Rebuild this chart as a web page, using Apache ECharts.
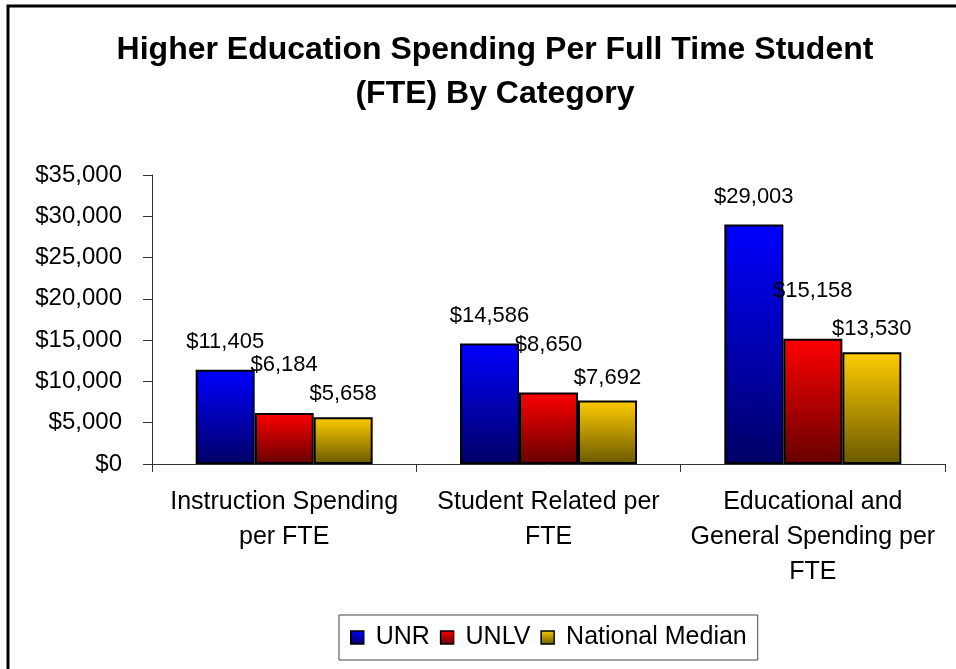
<!DOCTYPE html>
<html>
<head>
<meta charset="utf-8">
<style>
  html, body { margin: 0; padding: 0; background: #fff; }
  #main { width: 956px; height: 669px; }
</style>
<script src="https://cdn.jsdelivr.net/npm/echarts@6/dist/echarts.min.js"></script>
</head>
<body>
<div id="main"></div>
<script>
// data
var categories = ['Instruction Spending\nper FTE', 'Student Related per\nFTE', 'Educational and\nGeneral Spending per\nFTE'];
var unr = [11405, 14586, 29003];
var unlv = [6184, 8650, 15158];
var nationalMedian = [5658, 7692, 13530];

var myChart = echarts.init(document.getElementById('main'));

function grad(top, bottom) {
    return new echarts.graphic.LinearGradient(0, 0, 0, 1, [
        { offset: 0, color: top },
        { offset: 1, color: bottom }
    ]);
}

function money(v) {
    return '$' + echarts.format.addCommas(v);
}

var font = '"Liberation Sans", Arial, sans-serif';

function barSeries(name, data, top, bottom, dist) {
    return {
        name: name,
        type: 'bar',
        data: data,
        barWidth: 59,
        barGap: '0%',
        itemStyle: { color: grad(top, bottom), borderColor: '#000', borderWidth: 2 },
        label: {
            show: true,
            position: 'top',
            distance: dist,
            color: '#000',
            fontSize: 22,
            fontFamily: font,
            formatter: function (p) { return money(p.value); }
        }
    };
}

var option = {
    backgroundColor: '#fff',
    animation: false,
    title: {
        text: 'Higher Education Spending Per Full Time Student\n(FTE) By Category',
        left: 490,
        textAlign: 'center',
        top: 23,
        textStyle: { fontSize: 32, fontWeight: 'bold', color: '#000', lineHeight: 44, fontFamily: font }
    },
    graphic: [{
        type: 'rect',
        shape: { x: 8, y: 6, width: 1000, height: 1000 },
        style: { fill: 'none', stroke: '#000', lineWidth: 3 },
        silent: true
    }],
    legend: {
        data: ['UNR', 'UNLV', 'National Median'],
        top: 615,
        left: 339,
        icon: 'rect',
        itemWidth: 13,
        itemHeight: 13,
        itemGap: 10,
        padding: [10, 11],
        borderColor: '#444',
        borderWidth: 1,
        itemStyle: { borderWidth: 1.5, borderColor: '#000' },
        formatter: function (name) { return ' ' + name; },
        textStyle: { fontSize: 25, color: '#000', fontFamily: font }
    },
    grid: { left: 152, right: 11, top: 175, bottom: 205, containLabel: false },
    xAxis: {
        type: 'category',
        data: categories,
        axisLine: { lineStyle: { color: '#333', width: 1 } },
        axisTick: { show: true, length: 8, lineStyle: { color: '#333' } },
        axisLabel: { interval: 0, fontSize: 25, color: '#000', fontFamily: font, lineHeight: 35, margin: 21 }
    },
    yAxis: {
        type: 'value',
        min: 0,
        max: 35000,
        interval: 5000,
        axisLine: { show: true, lineStyle: { color: '#333', width: 1 } },
        axisTick: { show: true, length: 9, lineStyle: { color: '#333' } },
        splitLine: { show: false },
        axisLabel: { fontSize: 24, color: '#000', fontFamily: font, margin: 30, formatter: money }
    },
    series: [
        barSeries('UNR', unr, '#0000ff', '#000066', 17),
        barSeries('UNLV', unlv, '#ff0000', '#660000', 37),
        barSeries('National Median', nationalMedian, '#ffcc00', '#6b5a00', 12)
    ]
};

myChart.setOption(option);
</script>
</body>
</html>
